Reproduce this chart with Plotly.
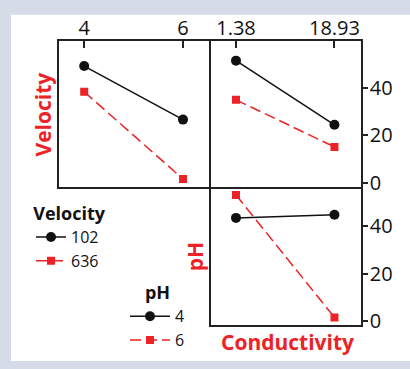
import plotly.graph_objects as go

# ---- data ----
ph_levels = [4, 6]
cond_levels = [1.38, 18.93]
cond_ticktext = ["1.38", "18.93"]
velocity_groups = ["102", "636"]
ph_groups = ["4", "6"]

# top-left: response vs pH, by Velocity
tl_v102 = [49.4, 26.7]
tl_v636 = [38.5, 1.5]
# top-right: response vs Conductivity, by Velocity
tr_v102 = [51.7, 24.5]
tr_v636 = [35.1, 15.1]
# bottom-right: response vs Conductivity, by pH
br_ph4 = [43.6, 44.9]
br_ph6 = [53.3, 1.4]

y_ticks = [0, 20, 40]

W, H = 410, 369
RED = "#ED2226"
BLACK = "#111111"
AX = "#222222"
FONT = "Open Sans"
LW = 1.6

def px(x):
    return x / W

def py(y):
    return (H - y) / H

fig = go.Figure()

black_style = dict(mode="lines+markers", line=dict(color=BLACK, width=1.5),
                   marker=dict(symbol="circle", size=10, color=BLACK))
red_style = dict(mode="lines+markers", line=dict(color=RED, width=1.5, dash="11px,5px"),
                 marker=dict(symbol="square", size=8, color=RED))

fig.add_trace(go.Scatter(x=ph_levels, y=tl_v102, name=velocity_groups[0], xaxis="x", yaxis="y",
                         legend="legend", legendgroup="v0", **black_style))
fig.add_trace(go.Scatter(x=ph_levels, y=tl_v636, name=velocity_groups[1], xaxis="x", yaxis="y",
                         legend="legend", legendgroup="v1", **red_style))
fig.add_trace(go.Scatter(x=cond_levels, y=tr_v102, name=velocity_groups[0], xaxis="x2", yaxis="y2",
                         legend="legend", legendgroup="v0", showlegend=False, **black_style))
fig.add_trace(go.Scatter(x=cond_levels, y=tr_v636, name=velocity_groups[1], xaxis="x2", yaxis="y2",
                         legend="legend", legendgroup="v1", showlegend=False, **red_style))
fig.add_trace(go.Scatter(x=cond_levels, y=br_ph4, name=ph_groups[0], xaxis="x3", yaxis="y3",
                         legend="legend2", **black_style))
fig.add_trace(go.Scatter(x=cond_levels, y=br_ph6, name=ph_groups[1], xaxis="x3", yaxis="y3",
                         legend="legend2", **red_style))

half = LW / 2
col1 = [px(59), px(210 - half)]
col2 = [px(210 + half), px(361)]
row1 = [py(192 - half), py(42)]
row2 = [py(332.7), py(192 + half)]

box = dict(showline=True, mirror=True, linecolor=AX, linewidth=LW,
           showgrid=False, zeroline=False)
tickfont = dict(family=FONT, size=20, color="#111111")
legfont = dict(family=FONT, size=16, color="#111111")
legtitlefont = dict(family=FONT, size=18, color="#111111")

fig.update_layout(
    width=W, height=H,
    margin=dict(l=0, r=0, t=0, b=0),
    paper_bgcolor="#D5DCE7",
    plot_bgcolor="white",
    font=dict(family=FONT),
    xaxis=dict(domain=col1, anchor="y", range=[3.49, 6.53], side="top",
               tickvals=ph_levels, ticktext=[str(v) for v in ph_levels],
               ticks="inside", ticklen=7, tickcolor=AX, tickwidth=1.5,
               ticklabelstandoff=-4, tickfont=tickfont, **box),
    yaxis=dict(domain=row1, anchor="x", range=[-1.9, 60], showticklabels=False,
               ticks="", **box),
    xaxis2=dict(domain=col2, anchor="y2", range=[-3.11, 23.66], side="top",
                tickvals=cond_levels, ticktext=cond_ticktext,
                ticks="inside", ticklen=7, tickcolor=AX, tickwidth=1.5,
                ticklabelstandoff=-4, tickfont=tickfont, **box),
    yaxis2=dict(domain=row1, anchor="x2", range=[-1.9, 60], side="right",
                tickvals=y_ticks, ticks="outside", ticklen=5, tickcolor=AX, tickwidth=1.5,
                ticklabelstandoff=-2, tickfont=tickfont, **box),
    xaxis3=dict(domain=col2, anchor="y3", range=[-3.11, 23.66],
                showticklabels=False, ticks="", **box),
    yaxis3=dict(domain=row2, anchor="x3", range=[-2, 56], side="right",
                tickvals=y_ticks, ticks="outside", ticklen=5, tickcolor=AX, tickwidth=1.5,
                ticklabelstandoff=-2, tickfont=tickfont, **box),
    legend=dict(x=px(31), xanchor="left", y=py(201), yanchor="top",
                bgcolor="rgba(0,0,0,0)", font=legfont,
                title=dict(text="<b>Velocity</b>", side="top center", font=legtitlefont),
                itemwidth=30, tracegroupgap=0),
    legend2=dict(x=px(125), xanchor="left", y=py(282), yanchor="top",
                 bgcolor="rgba(0,0,0,0)", font=legfont,
                 title=dict(text="<b>pH</b>", side="top center", font=legtitlefont),
                 itemwidth=40, tracegroupgap=0),
    shapes=[dict(type="rect", xref="paper", yref="paper", x0=px(11), x1=1.0,
                 y0=0, y1=py(15), fillcolor="white", line=dict(width=0), layer="below")],
    annotations=[
        dict(text="<b>Velocity</b>", xref="paper", yref="paper", x=px(43), y=py(117),
             textangle=-90, showarrow=False, xanchor="center", yanchor="middle",
             font=dict(family=FONT, size=21, color=RED)),
        dict(text="<b>pH</b>", xref="paper", yref="paper", x=px(195), y=py(263),
             textangle=-90, showarrow=False, xanchor="center", yanchor="middle",
             font=dict(family=FONT, size=21, color=RED)),
        dict(text="<b>Conductivity</b>", xref="paper", yref="paper", x=px(287), y=py(350),
             showarrow=False, xanchor="center", yanchor="middle",
             font=dict(family=FONT, size=21, color=RED)),
    ],
)

fig.write_html("out.html")
